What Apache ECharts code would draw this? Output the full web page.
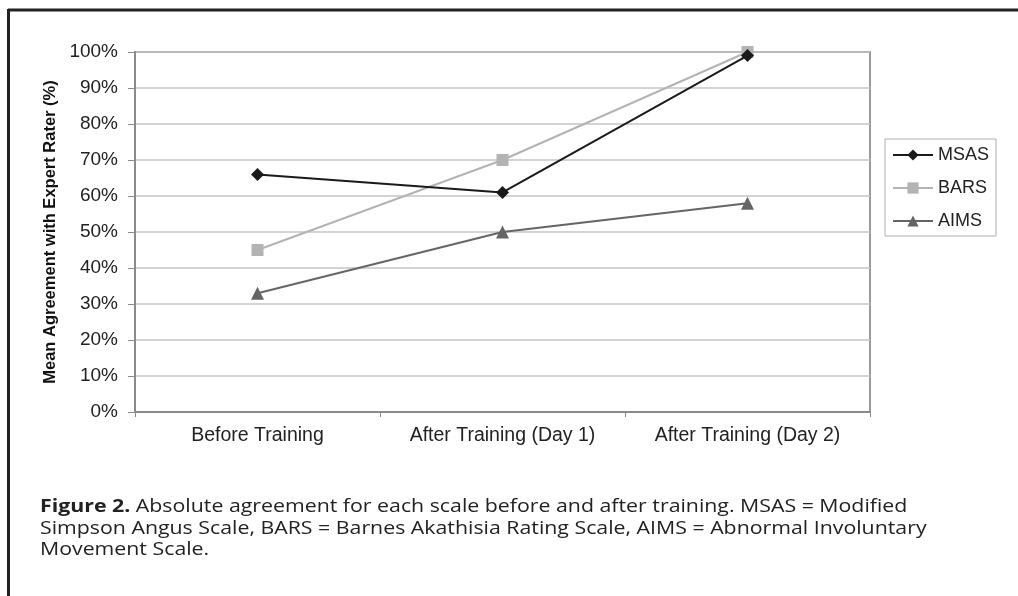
<!DOCTYPE html>
<html>
<head>
<meta charset="utf-8">
<script src="https://cdn.jsdelivr.net/npm/echarts@6/dist/echarts.min.js"></script>
<style>
html,body{margin:0;padding:0;background:#fff;}
#chart{width:1018px;height:596px;}
</style>
</head>
<body>
<div id="chart"></div>
<script>
const categories = ['Before Training', 'After Training (Day 1)', 'After Training (Day 2)'];
const msas = [66, 61, 99];
const bars = [45, 70, 100];
const aims = [33, 50, 58];
const yTicks = [0, 10, 20, 30, 40, 50, 60, 70, 80, 90, 100];
const yTitle = 'Mean Agreement with Expert Rater (%)';
const captionBold = 'Figure 2.';
const captionLines = [
  ' Absolute agreement for each scale before and after training. MSAS = Modified',
  'Simpson Angus Scale, BARS = Barnes Akathisia Rating Scale, AIMS = Abnormal Involuntary',
  'Movement Scale.'
];

const chart = echarts.init(document.getElementById('chart'), null, {renderer: 'canvas'});
const font = 'Liberation Sans, Arial, sans-serif';
const capFont = 'Open Sans, Noto Sans, sans-serif';

const option = {
  backgroundColor: '#fff',
  animation: false,
  grid: {left: 135, top: 52, right: 148, bottom: 184, show: true, borderColor: '#9a9a9a', borderWidth: 2, backgroundColor: 'transparent'},
  legend: {
    orient: 'vertical', left: 885, top: 139,
    padding: [7, 7, 6, 7], itemGap: 15, itemWidth: 40, itemHeight: 14,
    borderColor: '#b0b0b0', borderWidth: 1,
    textStyle: {fontFamily: font, fontSize: 18, color: '#222'},
    data: ['MSAS', 'BARS', 'AIMS']
  },
  xAxis: {
    type: 'category', data: categories, boundaryGap: true,
    axisLine: {lineStyle: {color: '#8a8a8a', width: 2}},
    axisTick: {show: true, length: 5, lineStyle: {color: '#8a8a8a', width: 1}},
    axisLabel: {fontFamily: font, fontSize: 19.5, color: '#222', margin: 14},
    splitLine: {show: false}
  },
  yAxis: {
    type: 'value', min: 0, max: 100, interval: 10,
    name: yTitle, nameLocation: 'middle', nameGap: 73,
    nameTextStyle: {fontFamily: font, fontSize: 16.5, fontWeight: 'bold', color: '#111'},
    axisLine: {show: true, lineStyle: {color: '#8a8a8a', width: 2}},
    axisTick: {show: true, length: 7, lineStyle: {color: '#8a8a8a', width: 1}},
    axisLabel: {fontFamily: font, fontSize: 19, color: '#222', margin: 17,
      formatter: v => yTicks.includes(v) ? v + '%' : ''},
    splitLine: {lineStyle: {color: '#c4c4c4', width: 1.5}}
  },
  series: [
    {name: 'MSAS', type: 'line', data: msas, symbol: 'diamond', symbolSize: 13,
      lineStyle: {color: '#1a1a1a', width: 2}, itemStyle: {color: '#1a1a1a'}, z: 4},
    {name: 'BARS', type: 'line', data: bars, symbol: 'rect', symbolSize: 12,
      lineStyle: {color: '#b3b3b3', width: 2}, itemStyle: {color: '#b3b3b3'}, z: 3},
    {name: 'AIMS', type: 'line', data: aims, symbol: 'triangle', symbolSize: 13,
      lineStyle: {color: '#656565', width: 2}, itemStyle: {color: '#656565'}, z: 2}
  ],
  graphic: [
    {type: 'line', shape: {x1: 8, y1: 10, x2: 1018, y2: 10}, style: {stroke: '#222', lineWidth: 3}},
    {type: 'line', shape: {x1: 8.5, y1: 9, x2: 8.5, y2: 596}, style: {stroke: '#222', lineWidth: 3}},
    {type: 'text', x: 40, y: 496, scaleX: 1.152, scaleY: 1, style: {
      text: '{b|' + captionBold + '}' + captionLines[0] + '\n' + captionLines[1] + '\n' + captionLines[2],
      fontFamily: capFont, fontSize: 18.5, lineHeight: 21.5, fill: '#222',
      rich: {b: {fontFamily: capFont, fontSize: 18.5, fontWeight: 'bold', fill: '#222', lineHeight: 21.5}}
    }}
  ]
};
chart.setOption(option);
</script>
</body>
</html>
